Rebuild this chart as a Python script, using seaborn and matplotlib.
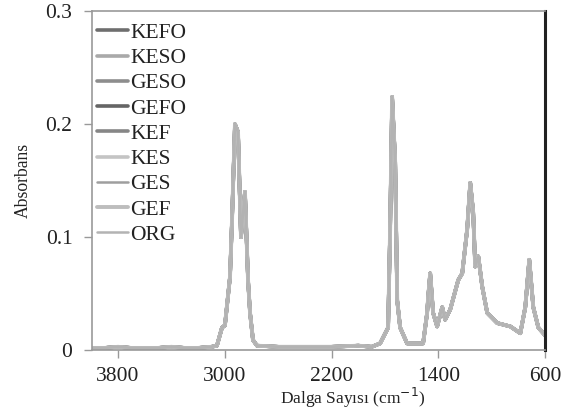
import numpy as np
import pandas as pd
import matplotlib
matplotlib.use("Agg")
import matplotlib.pyplot as plt
import seaborn as sns

sns.set_style("white")
plt.rcParams['font.family'] = ['Liberation Serif', 'DejaVu Serif']

# okunan FTIR spektrumu (tum numuneler ust uste biniyor)
dalga = [3995, 3900, 3800, 3700, 3600, 3500, 3400, 3300, 3200, 3100, 3059, 3021, 2999,
         2961, 2946, 2924, 2901, 2879, 2849, 2826, 2811, 2789, 2759, 2600, 2400, 2200,
         2000, 1900, 1837, 1777, 1762, 1747, 1724, 1709, 1687, 1635, 1515, 1485, 1477,
         1462, 1440, 1410, 1372, 1350, 1312, 1252, 1222, 1185, 1162, 1140, 1125, 1102,
         1072, 1035, 960, 862, 787, 750, 720, 690, 652, 615, 600]
absorbans = [0.002, 0.002, 0.003, 0.002, 0.002, 0.002, 0.003, 0.002, 0.002, 0.003, 0.004,
             0.020, 0.022, 0.065, 0.115, 0.200, 0.193, 0.100, 0.140, 0.062, 0.033, 0.009,
             0.004, 0.003, 0.003, 0.003, 0.004, 0.003, 0.006, 0.020, 0.107, 0.224, 0.166,
             0.044, 0.020, 0.006, 0.006, 0.033, 0.047, 0.068, 0.033, 0.021, 0.038, 0.027,
             0.036, 0.062, 0.068, 0.107, 0.148, 0.122, 0.074, 0.083, 0.056, 0.033, 0.024,
             0.021, 0.015, 0.038, 0.080, 0.038, 0.020, 0.015, 0.013]

numuneler = ["KEFO", "KESO", "GESO", "GEFO", "KEF", "KES", "GES", "GEF", "ORG"]
renkler = ["#6e6e6e", "#a9a9a9", "#8d8d8d", "#656565", "#868686", "#c4c4c4", "#9e9e9e",
           "#bdbdbd", "#b3b3b3"]
kalinlik = [2.6, 2.6, 2.6, 2.6, 2.6, 2.6, 1.8, 2.8, 1.8]

x_ticks = [3800, 3000, 2200, 1400, 600]
y_ticks = [0, 0.1, 0.2, 0.3]
y_labels = ["0", "0.1", "0.2", "0.3"]

fig = plt.figure(figsize=(5.71, 4.12), dpi=100)
ax = fig.add_axes([0.161, 0.150, 0.794, 0.823])

for ad, renk, lw in zip(numuneler, renkler, kalinlik):
    df = pd.DataFrame({"dalga": dalga, "abs": absorbans})
    sns.lineplot(data=df, x="dalga", y="abs", color=renk, lw=lw, label=ad, ax=ax, sort=False)

ax.set_xlim(3995, 600)
ax.set_ylim(0, 0.3)
ax.set_xticks(x_ticks)
ax.set_xticklabels([str(t) for t in x_ticks])
ax.set_yticks(y_ticks)
ax.set_yticklabels(y_labels)
ax.tick_params(axis="both", labelsize=15.5, direction="out", length=6, width=1,
               color="#999999", labelcolor="#222222", bottom=True, left=True)
ax.tick_params(axis="x", pad=6)
ax.tick_params(axis="y", pad=8)

for s in ["left", "top", "bottom"]:
    ax.spines[s].set_color("#999999")
    ax.spines[s].set_linewidth(1.2)
ax.spines["right"].set_color("#222222")
ax.spines["right"].set_linewidth(2.2)

ax.set_xlabel("Dalga Sayısı (cm$^{-1}$)", fontsize=12.5, color="#222222")
ax.set_ylabel("Absorbans", fontsize=12.7, color="#222222")
ax.xaxis.set_label_coords(0.575, -0.105)
ax.yaxis.set_label_coords(-0.132, 0.5)

leg = ax.legend(loc="upper left", bbox_to_anchor=(0.002, 0.978), frameon=False,
                fontsize=15.5, labelspacing=0.24, handlelength=1.45,
                handletextpad=0.1, borderaxespad=0, borderpad=0.2)
for t in leg.get_texts():
    t.set_color("#222222")

plt.savefig("out.png", dpi=100)
